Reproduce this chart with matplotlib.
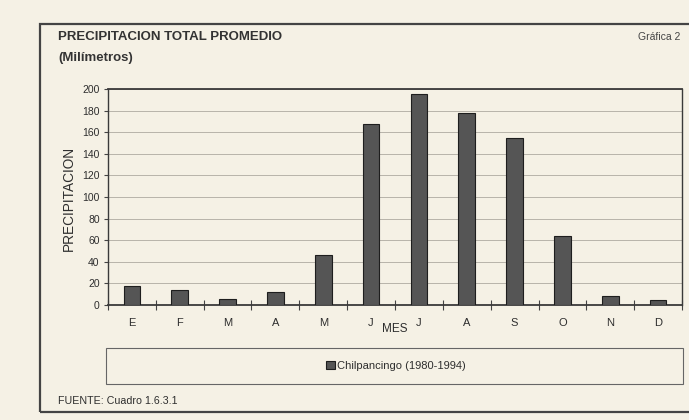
import matplotlib
matplotlib.use("Agg")
import matplotlib.pyplot as plt
from matplotlib.patches import Rectangle
import numpy as np

# Monthly average precipitation, Chilpancingo (1980-1994), mm
meses = ["E", "F", "M", "A", "M", "J", "J", "A", "S", "O", "N", "D"]
precipitacion = [18, 14, 5.5, 12, 46, 168, 195, 178, 155, 64, 8, 5]
serie = "Chilpancingo (1980-1994)"
y_ticks = list(range(0, 201, 20))

W, H = 689, 420
paper = "#f5f1e5"
ink = "#2e2e2e"
plt.rcParams["font.family"] = ["Liberation Sans", "DejaVu Sans"]

fig = plt.figure(figsize=(W / 100, H / 100), dpi=100, facecolor=paper)


def fx(px):
    return px / W


def fy(py):
    return 1 - py / H


# outer frame of the page graphic (its right side runs past the edge)
fig.patches.append(Rectangle((fx(40), fy(412)), fx(660), (412 - 24) / H,
                             transform=fig.transFigure, fill=False,
                             edgecolor="#444444", linewidth=1.6))

ax = fig.add_axes([fx(108), fy(305), fx(574), 216 / H])
ax.set_facecolor(paper)

x = np.arange(len(meses))
bars = ax.bar(x, precipitacion, width=0.35, color="#555555",
              edgecolor="#1e1e1e", linewidth=0.8, label=serie, zorder=3)

ax.set_xlim(-0.5, len(meses) - 0.5)
ax.set_ylim(0, 200)
ax.set_yticks(y_ticks)
ax.set_xticks(x)
ax.set_xticklabels(meses)
ax.set_xticks(np.arange(-0.5, len(meses)), minor=True)
ax.tick_params(axis="x", which="major", length=0, pad=9, labelsize=8,
               labelcolor=ink)
ax.tick_params(axis="x", which="minor", length=7, direction="inout",
               width=0.8, color="#444444")
ax.tick_params(axis="y", length=3, width=0.8, color="#444444", pad=3,
               labelsize=7.5, labelcolor=ink)
ax.yaxis.grid(True, color="#b8b4aa", linewidth=0.7, zorder=0)
for s in ax.spines.values():
    s.set_color("#3a3a3a")
    s.set_linewidth(1.0)
ax.spines["bottom"].set_linewidth(1.3)
ax.spines["top"].set_linewidth(1.3)

# titles and labels
fig.text(fx(58), fy(37), "PRECIPITACION TOTAL PROMEDIO", fontsize=9.5,
         fontweight="bold", color="#333333", va="center", ha="left")
fig.text(fx(58), fy(58), "(Milímetros)", fontsize=9.5, fontweight="bold",
         color="#333333", va="center", ha="left")
fig.text(fx(680), fy(37), "Gráfica 2", fontsize=7.5, color="#444444",
         va="center", ha="right")
fig.text(fx(69), fy(198), "PRECIPITACION", fontsize=9.8, rotation=90,
         color=ink, va="center", ha="center")
fig.text(fx(395), fy(329), "MES", fontsize=8.5, color=ink,
         va="center", ha="center")
fig.text(fx(58), fy(401), "FUENTE: Cuadro 1.6.3.1", fontsize=7.7,
         color=ink, va="center", ha="left")

# legend box
fig.patches.append(Rectangle((fx(106), fy(384)), fx(577), 36 / H,
                             transform=fig.transFigure, fill=False,
                             edgecolor="#666666", linewidth=0.8))
fig.legend(handles=[bars], labels=[serie], loc="center",
           bbox_to_anchor=(fx(396), fy(366)), frameon=False, fontsize=8,
           handlelength=0.75, handleheight=0.75, handletextpad=0.2,
           labelcolor=ink)

fig.savefig("out.png", dpi=100, facecolor=paper)
